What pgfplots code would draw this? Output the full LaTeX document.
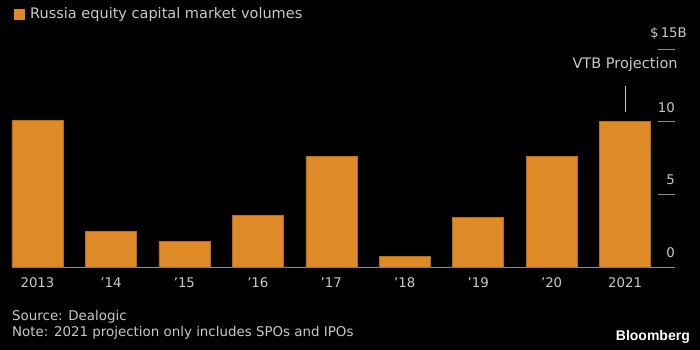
\documentclass[border=0pt]{standalone}
\usepackage{pgfplots}
\pgfplotsset{compat=1.18}
\usepackage{fontspec}
\setmainfont{DejaVu Sans}
\newfontfamily\bbfont{Liberation Sans}
\definecolor{barorange}{HTML}{DE8A26}
\definecolor{txtgray}{HTML}{C8C8C8}
\definecolor{axgray}{HTML}{8C8C8C}
\newcommand{\ap}{\char39\relax}
\begin{document}
\begin{tikzpicture}
\fill[black] (0,0) rectangle (700pt,350pt);
\path[use as bounding box] (0,0) rectangle (700pt,350pt);
% title
\fill[barorange] (14pt,330pt) rectangle (25pt,341pt);
\node[anchor=west, text=txtgray, font=\fontsize{14.5}{16}\selectfont, inner sep=0pt] at (30pt,335pt) {Russia equity capital market volumes};
\begin{axis}[
  at={(12pt,83pt)}, anchor=south west,
  scale only axis, width=663pt, height=218pt,
  xmin=-0.347, xmax=8.68, ymin=0, ymax=15,
  axis x line*=bottom, axis y line=none,
  x axis line style={draw=axgray, line width=0.8pt},
  xtick={0,...,8}, xtick style={draw=none},
  xticklabels={2013,\ap14,\ap15,\ap16,\ap17,\ap18,\ap19,\ap20,2021},
  xticklabel style={text=txtgray, font=\fontsize{13.3}{15}\selectfont, yshift=-3pt},
  ybar, bar width=51pt, bar shift=0pt,
  clip=false,
]
\addplot[fill=barorange, draw=barorange!80!black, line width=0.4pt] coordinates {
(0,10.1) (1,2.47) (2,1.78) (3,3.56) (4,7.6) (5,0.75) (6,3.42) (7,7.6) (8,10.0)};
% right-side y ticks
\foreach \v in {0,5,10,15} {
  \edef\tmp{\noexpand\draw[axgray, line width=0.8pt] (axis cs:8.45,\v) -- (axis cs:8.68,\v);}\tmp
}
\foreach \v/\l in {0/0,5/5,10/10} {
  \edef\tmp{\noexpand\node[anchor=south east, text=txtgray, font=\noexpand\fontsize{13.3}{15}\noexpand\selectfont, inner sep=0pt] at (axis cs:8.68,\v) [yshift=9pt] {\l};}\tmp
}
\node[anchor=south east, text=txtgray, font=\fontsize{13.3}{15}\selectfont, inner sep=0pt] at (axis cs:8.68,15) [yshift=9pt, xshift=12pt] {\$\,15B};
\node[text=txtgray, font=\fontsize{14.5}{16}\selectfont, inner sep=0pt] at (axis cs:8,13.9) {VTB Projection};
\draw[txtgray, line width=0.8pt] (axis cs:8,10.67) -- (axis cs:8,12.45);
\end{axis}
\node[anchor=west, text=txtgray, font=\fontsize{13.4}{15}\selectfont, inner sep=0pt] at (12pt,33pt) {Source: Dealogic};
\node[anchor=west, text=txtgray, font=\fontsize{13.4}{15}\selectfont, inner sep=0pt] at (12pt,17pt) {Note: 2021 projection only includes SPOs and IPOs};
\node[anchor=east, text=white, font=\bbfont\bfseries\fontsize{14}{15}\selectfont, inner sep=0pt] at (690pt,13pt) {Bloomberg};
\end{tikzpicture}
\end{document}
